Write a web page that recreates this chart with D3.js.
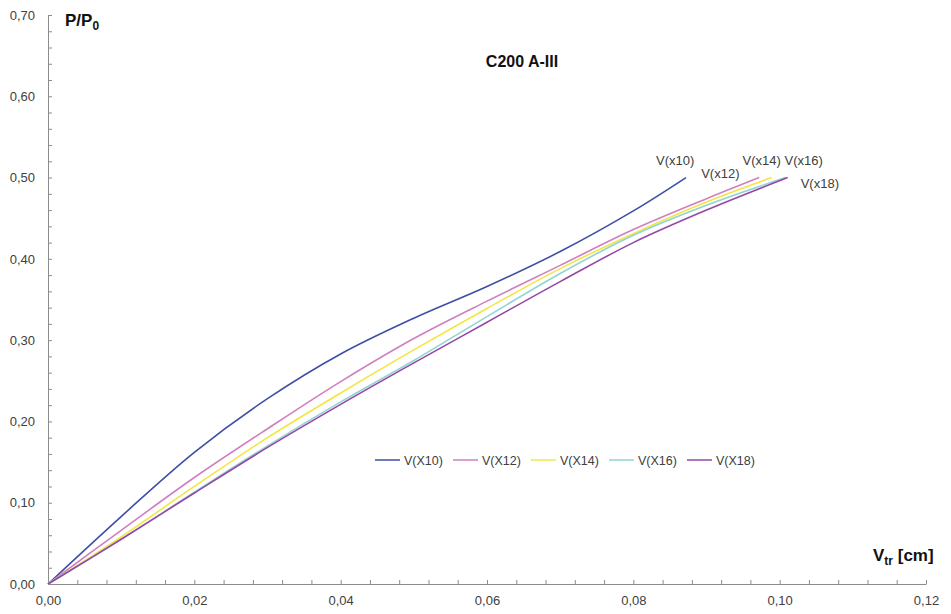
<!DOCTYPE html>
<html>
<head>
<meta charset="utf-8">
<script src="https://cdn.jsdelivr.net/npm/d3@7"></script>
<style>
  html, body { margin: 0; padding: 0; background: #fff; }
  svg { display: block; font-family: "Liberation Sans", Arial, sans-serif; }
</style>
</head>
<body>
<svg id="chart" width="951" height="614"></svg>
<script>
// Displacement V_tr [cm] vs relative load P/P0 for each measuring point
const seriesNames = ["V(X10)", "V(X12)", "V(X14)", "V(X16)", "V(X18)"];
const endLabels = ["V(x10)", "V(x12)", "V(x14)", "V(x16)", "V(x18)"];
const seriesColors = ["#3f4ea6", "#d07fc0", "#f3e640", "#92d4d4", "#9448a6"];

const vX10 = [0, 0.01, 0.02, 0.03, 0.04, 0.05, 0.06, 0.07, 0.08, 0.0872];
const pX10 = [0, 0.083, 0.162, 0.228, 0.283, 0.327, 0.366, 0.409, 0.459, 0.500];

const vX12 = [0, 0.01, 0.02, 0.03, 0.04, 0.05, 0.06, 0.07, 0.08, 0.09, 0.0972];
const pX12 = [0, 0.066, 0.131, 0.191, 0.249, 0.302, 0.348, 0.392, 0.436, 0.474, 0.500];

const vX14 = [0, 0.01, 0.02, 0.03, 0.04, 0.05, 0.06, 0.07, 0.08, 0.09, 0.0989];
const pX14 = [0, 0.058, 0.120, 0.180, 0.235, 0.288, 0.339, 0.388, 0.431, 0.470, 0.500];

const vX16 = [0, 0.01, 0.02, 0.03, 0.04, 0.05, 0.06, 0.07, 0.08, 0.09, 0.1008];
const pX16 = [0, 0.055, 0.113, 0.170, 0.224, 0.275, 0.329, 0.382, 0.429, 0.466, 0.500];

const vX18 = [0, 0.01, 0.02, 0.03, 0.04, 0.05, 0.06, 0.07, 0.08, 0.09, 0.1011];
const pX18 = [0, 0.055, 0.112, 0.168, 0.221, 0.272, 0.322, 0.372, 0.420, 0.460, 0.500];

const xMajorTicks = [0, 0.02, 0.04, 0.06, 0.08, 0.10, 0.12];
const yMajorTicks = [0, 0.1, 0.2, 0.3, 0.4, 0.5, 0.6, 0.7];

const seriesV = [vX10, vX12, vX14, vX16, vX18];
const seriesP = [pX10, pX12, pX14, pX16, pX18];

const svg = d3.select("#chart");
const x = d3.scaleLinear().domain([0, 0.12]).range([48, 926]);
const y = d3.scaleLinear().domain([0, 0.7]).range([584, 15]);

const fmt = d => d3.format(".2f")(d).replace(".", ",");

// minor ticks: 5 subdivisions between x labels, 5 between y labels
const xTicks = d3.range(0, 31).map(i => +(i * 0.004).toFixed(3));
const yTicks = d3.range(0, 36).map(i => +(i * 0.02).toFixed(2));

const axisColor = "#8c8c8c";
const labelColor = "#404040";

const gx = svg.append("g")
  .attr("transform", `translate(0,${y(0)})`)
  .call(d3.axisBottom(x).tickValues(xTicks).tickSizeInner(-4).tickSizeOuter(0).tickPadding(12)
    .tickFormat(d => xMajorTicks.some(t => Math.abs(t - d) < 1e-9) ? fmt(d) : ""));
const gy = svg.append("g")
  .attr("transform", `translate(${x(0)},0)`)
  .call(d3.axisLeft(y).tickValues(yTicks).tickSizeInner(-4).tickSizeOuter(0).tickPadding(13)
    .tickFormat(d => yMajorTicks.some(t => Math.abs(t - d) < 1e-9) ? fmt(d) : ""));

[gx, gy].forEach(g => {
  g.select(".domain").attr("stroke", axisColor).attr("stroke-width", 1);
  g.selectAll(".tick line").attr("stroke", axisColor);
  g.selectAll(".tick text").attr("fill", labelColor)
    .style("font-size", "13px").style("font-family", "'Liberation Sans', Arial, sans-serif");
});

// smoothed curves
const line = d3.line().x(d => x(d[0])).y(d => y(d[1])).curve(d3.curveCatmullRom.alpha(0.5));
seriesNames.forEach((name, i) => {
  const pts = seriesV[i].map((v, k) => [v, seriesP[i][k]]);
  svg.append("path")
    .datum(pts)
    .attr("fill", "none")
    .attr("stroke", seriesColors[i])
    .attr("stroke-width", 1.6)
    .attr("d", line);
});

// labels at the end of each curve
const endOffsets = [[-30, -13], [-58, 0], [-29, -13], [-1, -13], [13, 10]];
seriesNames.forEach((name, i) => {
  const n = seriesV[i].length - 1;
  const ex = x(seriesV[i][n]), ey = y(seriesP[i][n]);
  svg.append("text")
    .attr("x", ex + endOffsets[i][0])
    .attr("y", ey + endOffsets[i][1])
    .attr("fill", labelColor)
    .style("font-size", "13px")
    .text(endLabels[i]);
});

// axis titles
const yTitle = svg.append("text").attr("x", 65).attr("y", 26)
  .attr("font-weight", "bold").style("font-size", "17px").attr("fill", "#111");
yTitle.append("tspan").text("P/P");
yTitle.append("tspan").attr("dy", 4).style("font-size", "12px").text("0");

const xTitle = svg.append("text").attr("x", 873).attr("y", 561)
  .attr("font-weight", "bold").style("font-size", "17px").attr("fill", "#111");
xTitle.append("tspan").text("V");
xTitle.append("tspan").attr("dy", 4).style("font-size", "12px").text("tr");
xTitle.append("tspan").attr("dy", -4).text(" [cm]");

// chart title
svg.append("text").attr("x", 522).attr("y", 67).attr("text-anchor", "middle")
  .attr("font-weight", "bold").style("font-size", "16px").attr("fill", "#111")
  .text("C200 A-III");

// legend
const legend = svg.append("g").attr("transform", "translate(375,460)");
seriesNames.forEach((name, i) => {
  const g = legend.append("g").attr("transform", `translate(${i * 78},0)`);
  g.append("line").attr("x1", 0).attr("x2", 25).attr("y1", 0).attr("y2", 0)
    .attr("stroke", seriesColors[i]).attr("stroke-width", 2).attr("opacity", 0.75);
  g.append("text").attr("x", 29).attr("y", 4.5).attr("fill", labelColor)
    .style("font-size", "12.5px").text(name);
});
</script>
</body>
</html>
